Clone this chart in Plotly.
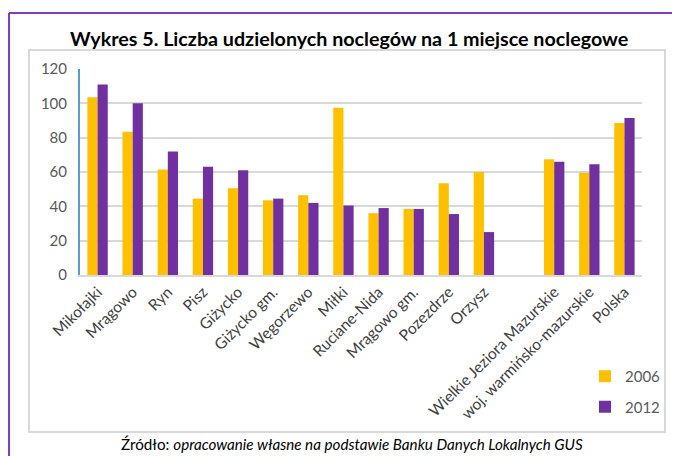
import plotly.graph_objects as go

categories = ["Mikołajki", "Mrągowo", "Ryn", "Pisz", "Giżycko", "Giżycko gm.", "Węgorzewo",
              "Miłki", "Ruciane-Nida", "Mrągowo gm.", "Pozezdrze", "Orzysz", " ",
              "Wielkie Jeziora Mazurskie", "woj. warmińsko-mazurskie", "Polska"]
values_2006 = [103.5, 83.5, 61.5, 44.5, 50.5, 43.5, 46.5, 97.5, 36, 38.5, 53.5, 60, None, 67.5, 59.5, 88.5]
values_2012 = [111, 100, 72, 63, 61, 44.5, 42, 40.5, 39, 38.5, 35.5, 25, None, 66, 64.5, 91.5]
y_ticks = [0, 20, 40, 60, 80, 100, 120]

FONT = "Lato"
# page body has an 8px margin, so the figure is 8px smaller and shifted
PW = 562.0   # plot width in px
PH = 206.0   # plot height in px
X0 = 80.0    # plot left in screenshot px
Y0 = 275.0   # plot bottom (value 0) in screenshot px


def px(x):
    return (x - X0) / PW


def py(y):
    return (Y0 - y) / PH


fig = go.Figure()
fig.add_trace(go.Bar(x=categories, y=values_2006, name="2006", marker_color="#FFC000",
                     marker_line_width=0, legendgroup="a"))
fig.add_trace(go.Bar(x=categories, y=values_2012, name="2012", marker_color="#7030A0",
                     marker_line_width=0, legendgroup="b"))

fig.update_layout(
    width=672, height=448,
    margin=dict(l=72, r=38, t=61, b=181, autoexpand=False),
    paper_bgcolor="white", plot_bgcolor="white",
    barmode="group", bargap=0.42, bargroupgap=0,
    font=dict(family=FONT, color="#595959"),
    showlegend=True,
    legend=dict(x=px(585), y=py(360), xanchor="left", yanchor="top", orientation="v",
                font=dict(size=15, color="#595959", family=FONT),
                traceorder="grouped", tracegroupgap=8, itemwidth=30,
                bgcolor="rgba(0,0,0,0)"),
    xaxis=dict(tickangle=-45, tickfont=dict(size=15.5, color="#404040", family=FONT),
               showline=True, linecolor="#D9D9D9", linewidth=2, ticks="",
               showgrid=False),
    yaxis=dict(range=[0, 120], tickvals=y_ticks, showgrid=True, gridcolor="#D9D9D9",
               gridwidth=2, zeroline=False, showline=True, linecolor="#5B9BD5",
               linewidth=2, ticks="", tickfont=dict(size=15, color="#595959", family=FONT),
               ticklabelstandoff=8),
)

shapes = [
    dict(type="rect", xref="paper", yref="paper", x0=px(29), x1=px(665),
         y0=py(432), y1=py(50), line=dict(color="#D9D9D9", width=2),
         fillcolor="rgba(0,0,0,0)", layer="below"),
    dict(type="line", xref="paper", yref="paper", x0=px(9), x1=px(700),
         y0=py(13), y1=py(13), line=dict(color="#7F3FBF", width=2)),
    dict(type="line", xref="paper", yref="paper", x0=px(9), x1=px(9),
         y0=py(13), y1=py(480), line=dict(color="#7F3FBF", width=2)),
]
fig.update_layout(shapes=shapes)

fig.add_annotation(text="<b>Wykres 5. Liczba udzielonych noclegów na 1 miejsce noclegowe</b>",
                   xref="paper", yref="paper", x=px(349), y=py(38),
                   xanchor="center", yanchor="middle", showarrow=False,
                   font=dict(size=19.7, color="#000000", family=FONT))
fig.add_annotation(text="Źródło: <i>opracowanie własne na podstawie Banku Danych Lokalnych GUS</i>",
                   xref="paper", yref="paper", x=px(352), y=py(444),
                   xanchor="center", yanchor="middle", showarrow=False,
                   font=dict(size=15.2, color="#000000", family=FONT))

fig.write_html("out.html")
